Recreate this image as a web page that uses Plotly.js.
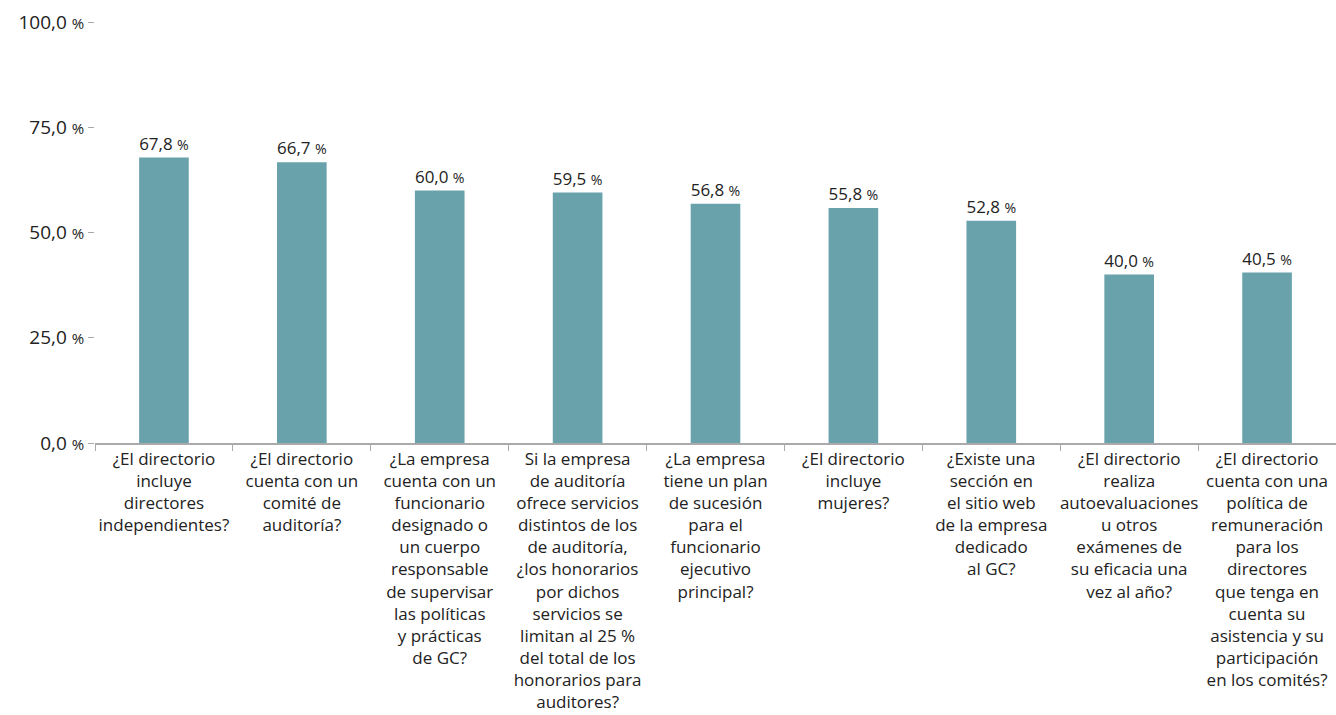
<!DOCTYPE html>
<html>
<head>
<meta charset="utf-8">
<script src="https://cdn.plot.ly/plotly-3.0.1.min.js"></script>
<style>html,body{margin:0;padding:0;background:#fff;}#chart{width:1336px;height:715px;}</style>
</head>
<body>
<div id="chart"></div>
<script>
const categories = [
  "¿El directorio<br>incluye<br>directores<br>independientes?",
  "¿El directorio<br>cuenta con un<br>comité de<br>auditoría?",
  "¿La empresa<br>cuenta con un<br>funcionario<br>designado o<br>un cuerpo<br>responsable<br>de supervisar<br>las políticas<br>y prácticas<br>de GC?",
  "Si la empresa<br>de auditoría<br>ofrece servicios<br>distintos de los<br>de auditoría,<br>¿los honorarios<br>por dichos<br>servicios se<br>limitan al 25 %<br>del total de los<br>honorarios para<br>auditores?",
  "¿La empresa<br>tiene un plan<br>de sucesión<br>para el<br>funcionario<br>ejecutivo<br>principal?",
  "¿El directorio<br>incluye<br>mujeres?",
  "¿Existe una<br>sección en<br>el sitio web<br>de la empresa<br>dedicado<br>al GC?",
  "¿El directorio<br>realiza<br>autoevaluaciones<br>u otros<br>exámenes de<br>su eficacia una<br>vez al año?",
  "¿El directorio<br>cuenta con una<br>política de<br>remuneración<br>para los<br>directores<br>que tenga en<br>cuenta su<br>asistencia y su<br>participación<br>en los comités?"
];
const values = [67.8, 66.7, 60.0, 59.5, 56.8, 55.8, 52.8, 40.0, 40.5];
const yTickVals = [0, 25, 50, 75, 100];

const pct = '<span style="font-size:15px">%</span>';
const fmt = v => v.toFixed(1).replace('.', ',') + ' ' + pct;

const trace = {
  type: 'bar',
  x: categories,
  y: values,
  marker: {color: '#69a2ab'},
  text: values.map(fmt),
  textposition: 'outside',
  cliponaxis: false,
  textfont: {family: 'Open Sans, sans-serif', size: 18, color: '#222'},
  hoverinfo: 'none'
};

const layout = {
  width: 1336, height: 715,
  margin: {l: 95, r: 0, t: 22, b: 272},
  paper_bgcolor: '#fff', plot_bgcolor: '#fff',
  bargap: 0.64,
  showlegend: false,
  font: {family: 'Open Sans, sans-serif', color: '#222'},
  xaxis: {
    type: 'category',
    showline: true, linecolor: '#aaa', linewidth: 1.5,
    ticks: 'outside', tickson: 'boundaries', ticklen: 6, tickcolor: '#aaa',
    tickfont: {family: 'Open Sans, sans-serif', size: 17, color: '#222'},
    tickangle: 0,
    showgrid: false, zeroline: false
  },
  yaxis: {
    range: [0, 100],
    tickvals: yTickVals,
    ticktext: yTickVals.map(fmt),
    ticks: 'outside', ticklen: 6, tickcolor: '#aaa',
    tickfont: {family: 'Open Sans, sans-serif', size: 19, color: '#222'},
    showgrid: false, zeroline: false, showline: false
  }
};

Plotly.newPlot('chart', [trace], layout, {displayModeBar: false, staticPlot: true});
</script>
</body>
</html>
